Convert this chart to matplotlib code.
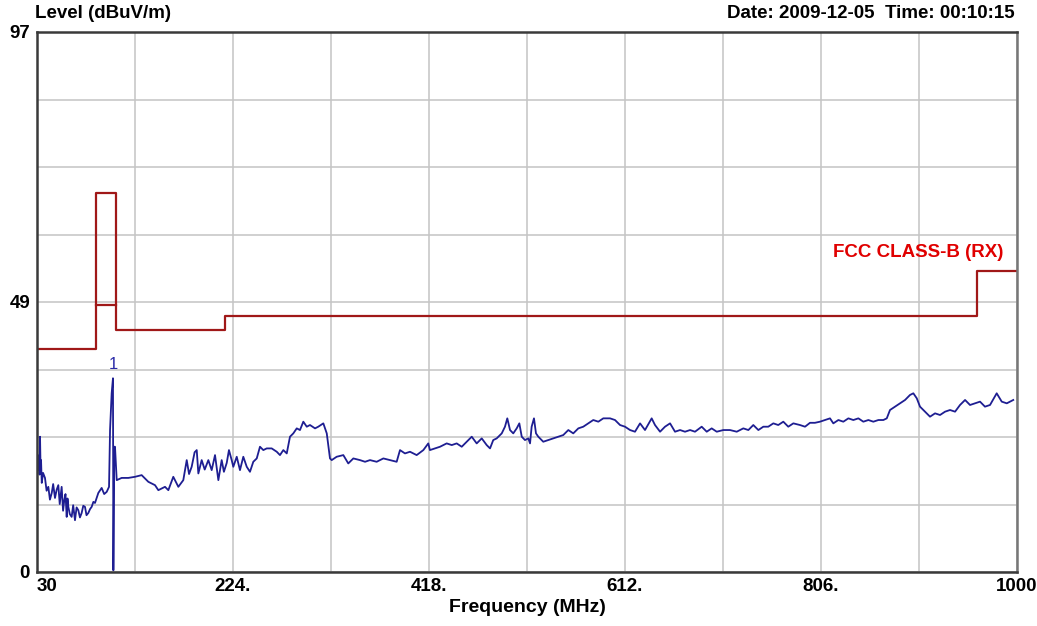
import numpy as np
import matplotlib
matplotlib.use("Agg")
import matplotlib.pyplot as plt

plt.rcParams['font.family'] = ['Liberation Sans', 'DejaVu Sans']

# measured spectrum (MHz, dBuV/m)
freq = [30.5, 31.3, 32.0, 32.5, 33.0, 33.5, 34.0, 34.7, 36.0, 37.9, 39.5, 41.2, 42.8, 44.6,
        46.0, 47.8, 49.5, 51.1, 52.5, 54.4, 55.8, 57.0, 58.2, 59.4, 60.2, 61.0, 62.5, 64.3,
        65.8, 67.6, 69.2, 70.9, 72.5, 74.2, 75.8, 77.5, 79.0, 80.8, 82.5, 84.1, 85.8, 87.4,
        90.7, 94.0, 96.5, 99.0, 101.3, 102.3, 103.9,
        105.2, 105.6, 106.5, 107.2, 108.9, 113.8, 120.4, 127.0, 133.6, 140.2, 146.8, 150.1,
        156.7, 160.0, 164.9, 169.9, 174.8, 178.2, 180.5, 183.1, 186.0, 188.1, 189.7, 193.0,
        196.0, 199.6, 202.9, 206.2, 209.5, 212.8, 215.0, 217.8, 220.0, 222.7,
        224.3, 227.7, 230.9, 234.2, 237.6, 240.8, 244.1, 247.5, 250.7, 254.0, 257.4, 262.3,
        267.3, 270.5, 273.8, 277.2, 280.4, 283.7, 287.1, 290.3, 293.6, 297.0, 300.2, 305.2,
        308.4, 313.4, 316.8, 320.0, 321.7, 326.6, 333.2, 338.1, 343.1, 349.7, 354.7, 359.6,
        366.2, 372.8, 379.4, 386.0, 389.3, 394.2, 399.2, 405.8, 412.4, 417.3,
        418.9, 423.9, 428.9, 435.5, 440.5, 445.4, 450.4, 455.3, 460.3, 465.2, 470.2, 475.1,
        478.4, 481.6, 485.0, 490.0, 493.2, 495.5, 498.2, 501.4, 504.8, 507.4, 509.8, 513.0,
        516.3, 518.0, 519.6, 521.9, 523.9, 526.2, 531.1, 536.1, 541.0, 546.0, 550.9, 555.9,
        560.8, 565.8, 570.7, 575.7, 580.6, 585.6, 590.5, 597.2, 602.1, 607.1, 612.0,
        617.0, 621.9, 626.9, 631.8, 638.4, 641.7, 646.7, 651.6, 656.6, 661.5, 666.5, 671.4,
        676.4, 681.3, 687.9, 692.9, 697.8, 702.8, 709.3, 715.9, 722.6, 729.1, 734.1, 739.0,
        744.0, 748.9, 753.8, 758.8, 763.7, 768.7, 773.6, 778.6, 785.2, 790.2, 795.1, 800.0,
        805.0, 810.0, 814.9, 818.2, 823.2, 828.1, 833.1, 838.0, 843.0, 847.9, 852.9, 857.8,
        862.8, 867.7, 871.1, 874.3, 879.3, 884.2, 889.2, 894.1, 897.4, 900.8, 904.0, 909.0,
        913.9, 918.9, 923.8, 928.8, 933.7, 938.7, 943.6, 948.6, 953.5, 958.4, 963.4, 968.3,
        973.3, 979.9, 984.9, 989.9, 996.3]
level = [20.5, 18.3, 21.0, 17.5, 24.3, 19.0, 20.1, 16.0, 17.8, 16.9, 14.6, 15.3, 13.0, 14.2,
         15.8, 13.3, 14.8, 15.6, 12.2, 15.3, 11.0, 12.9, 14.0, 9.9, 13.2, 11.7, 10.4, 9.9,
         12.0, 9.3, 11.6, 11.1, 9.8, 10.6, 11.9, 11.7, 10.2, 10.6, 11.3, 11.7, 12.6, 12.4,
         14.2, 15.1, 14.0, 14.4, 15.3, 25.5, 32.1,
         34.8, 0.3, 22.5, 22.5, 16.5, 16.9, 16.9, 17.1, 17.4, 16.2, 15.6, 14.7,
         15.3, 14.7, 17.1, 15.3, 16.5, 20.1, 17.6, 18.9, 21.5, 21.9, 17.7, 20.1,
         18.4, 20.1, 18.3, 21.0, 16.5, 20.1, 18.0, 19.6, 21.9, 20.1,
         18.9, 20.7, 18.3, 20.7, 18.9, 18.0, 19.8, 20.4, 22.5, 21.9, 22.2, 22.2,
         21.6, 21.0, 21.9, 21.3, 24.3, 24.9, 25.8, 25.5, 27.0, 26.1, 26.4, 25.8,
         26.1, 26.7, 24.9, 20.4, 20.1, 20.7, 21.0, 19.5, 20.4, 20.1, 19.8, 20.1,
         19.8, 20.4, 20.1, 19.8, 21.9, 21.3, 21.6, 21.0, 21.9, 23.1,
         21.9, 22.2, 22.5, 23.1, 22.8, 23.1, 22.5, 23.4, 24.3, 23.1, 24.0, 22.8,
         22.2, 23.7, 24.0, 24.9, 26.1, 27.6, 25.5, 24.9, 25.8, 26.7, 24.3, 23.7,
         24.0, 23.1, 26.1, 27.6, 24.9, 24.3, 23.4, 23.7, 24.0, 24.3, 24.6, 25.5,
         24.9, 25.8, 26.1, 26.7, 27.3, 27.0, 27.6, 27.6, 27.3, 26.4, 26.1,
         25.5, 25.2, 26.7, 25.5, 27.6, 26.4, 25.2, 26.1, 26.7, 25.2, 25.5, 25.2,
         25.5, 25.2, 26.1, 25.2, 25.8, 25.2, 25.5, 25.5, 25.2, 25.8, 25.5, 26.4,
         25.5, 26.1, 26.1, 26.7, 26.4, 27.0, 26.1, 26.7, 26.4, 26.1, 26.8, 26.8,
         27.0, 27.3, 27.6, 26.7, 27.3, 27.0, 27.6, 27.3, 27.6, 27.0, 27.3, 27.0,
         27.3, 27.3, 27.6, 29.1, 29.7, 30.3, 30.9, 31.8, 32.1, 31.2, 29.7, 28.8,
         27.9, 28.5, 28.2, 28.8, 29.1, 28.8, 30.0, 30.9, 30.0, 30.3, 30.6, 29.7,
         30.0, 32.1, 30.6, 30.3, 30.9]

# FCC class B limit
limit_f = [30, 88, 88, 108, 108, 216, 216, 960, 960, 1000]
limit_v = [40, 40, 68, 68, 43.5, 43.5, 46, 46, 54, 54]
fm_f = [88, 108]
fm_v = [48, 48]

peak_f, peak_v = 105.2, 34.8

x_grid = [30 + 97 * i for i in range(11)]
x_labels = ['30', '', '224.', '', '418.', '', '612.', '', '806.', '', '1000']
y_grid = [97 / 8 * i for i in range(9)]
y_labels = ['0', '', '', '', '49', '', '', '', '97']

fig = plt.figure(figsize=(10.37, 6.26), dpi=100)
ax = fig.add_axes([37 / 1037, 1 - 572 / 626, 980 / 1037, 540 / 626])

ax.plot(limit_f, limit_v, color='#a01818', lw=1.6)
ax.plot(fm_f, fm_v, color='#a01818', lw=1.6)
ax.plot(freq, level, color='#1e1e92', lw=1.3)
ax.text(peak_f, peak_v + 1.2, '1', color='#2a2aa8', fontsize=12, ha='center', va='bottom')
ax.text(987, 55.8, 'FCC CLASS-B (RX)', color='#e00000', fontsize=13.5, fontweight='bold',
        ha='right', va='bottom')

ax.set_xlim(30, 1000)
ax.set_ylim(0, 97)
ax.set_xticks(x_grid)
ax.set_xticklabels(x_labels, fontsize=13.5, fontweight='bold')
ax.set_yticks(y_grid)
ax.set_yticklabels(y_labels, fontsize=13.5, fontweight='bold')
ax.get_xticklabels()[0].set_ha('left')
ax.tick_params(length=0, pad=4)
ax.tick_params(axis='y', pad=5)
ax.grid(True, color='#c4c4c4', lw=1.1)
ax.set_axisbelow(True)
for s in ax.spines.values():
    s.set_color('#3a3a3a')
    s.set_linewidth(1.8)
ax.spines['right'].set_color('#777777')

ax.set_xlabel('Frequency (MHz)', fontsize=14, fontweight='bold', labelpad=3)
fig.text(35 / 1037, 1 - 14 / 626, 'Level (dBuV/m)', fontsize=13.5, fontweight='bold',
         ha='left', va='center')
fig.text(1015 / 1037, 1 - 14 / 626, 'Date: 2009-12-05  Time: 00:10:15', fontsize=13.5,
         fontweight='bold', ha='right', va='center')

fig.savefig('out.png', dpi=100)
